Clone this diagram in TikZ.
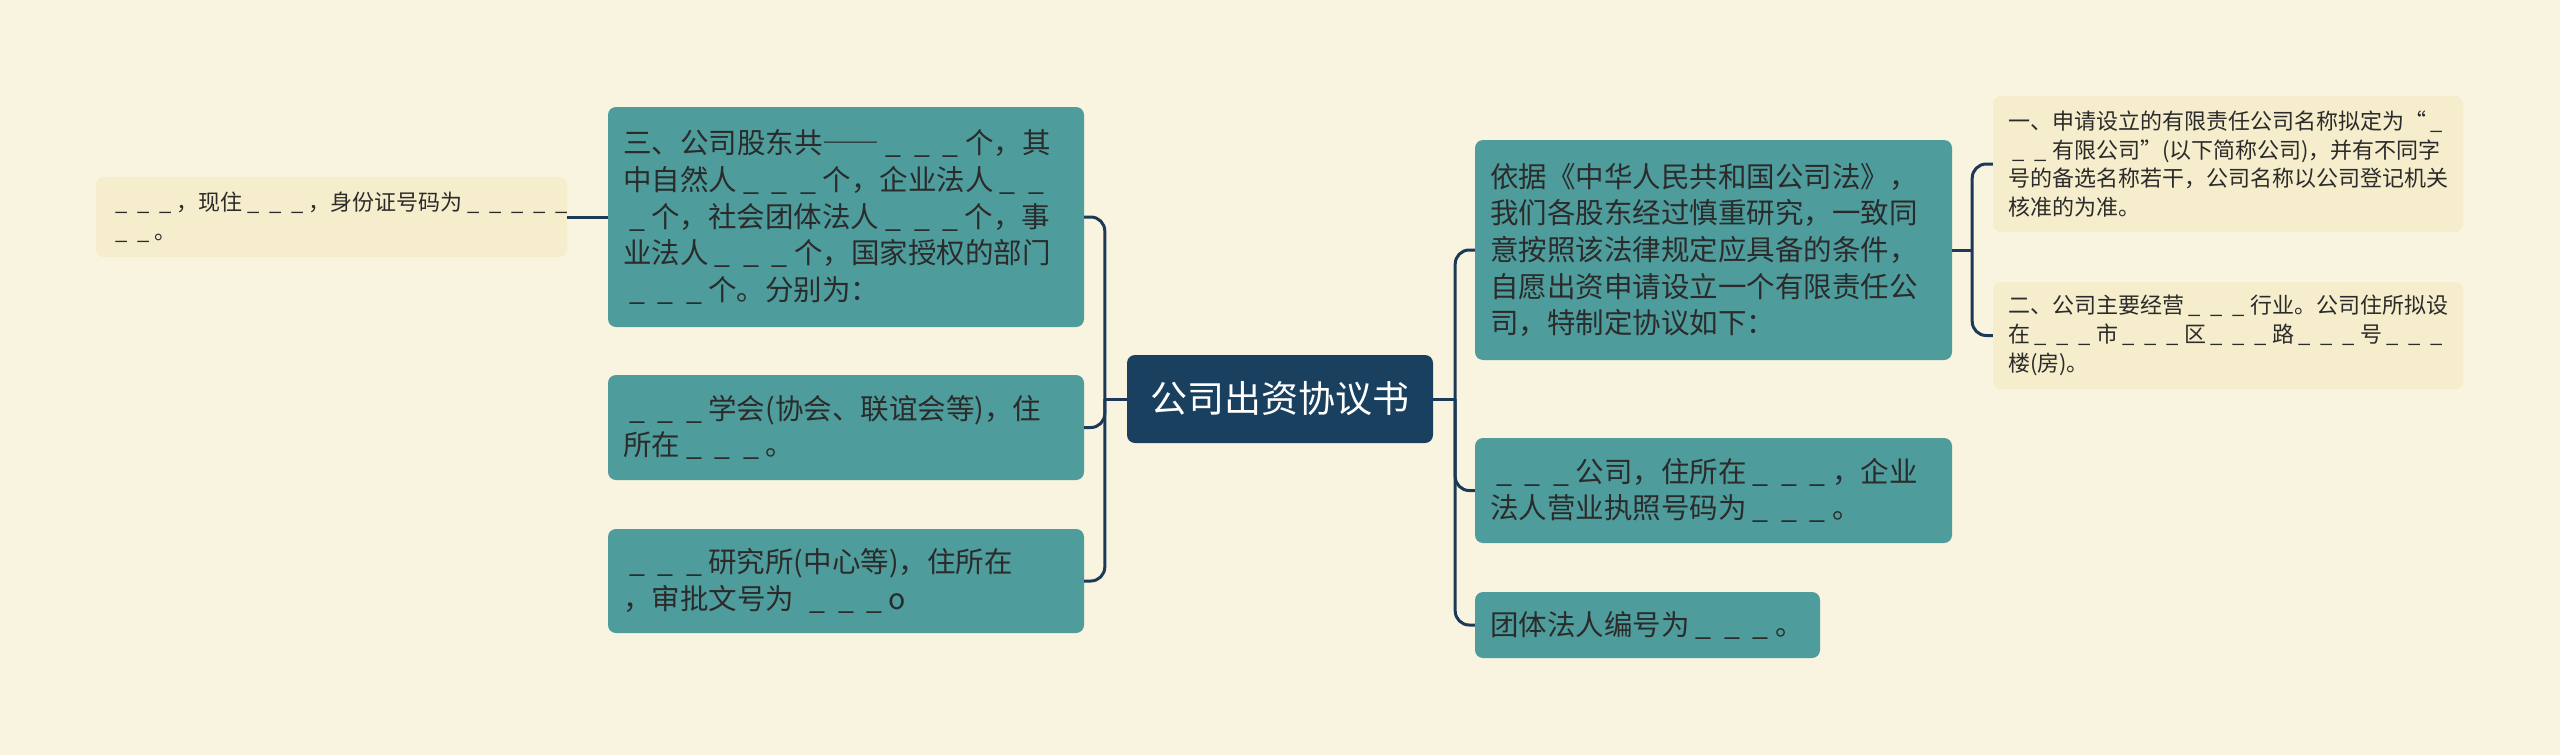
\documentclass[tikz,border=0pt]{standalone}
\usepackage{fontspec}
\newfontfamily\cjk{Noto Sans CJK SC}
\newfontfamily\cjkfw[RawFeature=+fwid]{Noto Sans CJK SC}
\usepackage{tikz}
\usetikzlibrary{calc}
\definecolor{bgcream}{HTML}{F9F4DF}
\definecolor{rootblue}{HTML}{1A4060}
\definecolor{tealfill}{HTML}{4E9C9C}
\definecolor{lightfill}{HTML}{F5EDCB}
\definecolor{linkblue}{HTML}{1C3A58}
\definecolor{inkgray}{HTML}{2B2B2B}
\newcommand{\us}{\makebox[1em]{\_}}
\newcommand{\blk}{\us\us\us}

\begin{document}
\begin{tikzpicture}[x=1pt,y=-1pt,
		rootbox/.style={fill=rootblue,rounded corners=8pt,text=white,font=\cjk\fontsize{37}{44}\selectfont,minimum height=88pt,minimum width=306pt,inner sep=0pt},
		tealbox/.style={fill=tealfill,rounded corners=8pt,text=inkgray,font=\cjk\fontsize{28.5}{36.7}\selectfont,align=left,inner xsep=15pt,inner ysep=0pt},
		lightbox/.style={fill=lightfill,rounded corners=8pt,text=inkgray,font=\cjk\fontsize{22}{28.7}\selectfont,align=left,inner xsep=15pt,inner ysep=0pt},
		link/.style={draw=linkblue,line width=3pt,rounded corners=14pt}]
			% background
			\fill[bgcream] (0,0) rectangle (2560,755);
			% root
			\node[rootbox] (root) at (1280,399) {公司出资协议书};
			% left branch
			\node[tealbox,text width=446pt,minimum height=220pt] (gudong) at (846,217) {三、公司股东共{\cjkfw ——}\blk{}个，其\\中自然人\blk{}个，企业法人\us\us\\\us{}个，社会团体法人\blk{}个，事\\业法人\blk{}个，国家授权的部门\\\blk{}个。分别为：};
			\node[tealbox,text width=446pt,minimum height=105pt] (xuehui) at (846,427.5) {\blk{}学会(协会、联谊会等)，住\\所在\blk{}。};
			\node[tealbox,text width=446pt,minimum height=104pt] (yanjiu) at (846,581) {\blk{}研究所(中心等)，住所在\\，审批文号为 \blk{}o};
			\node[lightbox,text width=441pt,minimum height=80pt] (ziranren) at (331.5,217) {\blk{}，现住\blk{}，身份证号码为\blk\us\us\\\us\us{}。};
			% right branch
			\node[tealbox,text width=447pt,minimum height=220pt] (yiju) at (1713.5,250) {依据《中华人民共和国公司法》，\\我们各股东经过慎重研究，一致同\\意按照该法律规定应具备的条件，\\自愿出资申请设立一个有限责任公\\司，特制定协议如下：};
			\node[tealbox,text width=447pt,minimum height=105pt] (gongsi) at (1713.5,490.5) {\blk{}公司，住所在\blk{}，企业\\法人营业执照号码为\blk{}。};
			\node[tealbox,text width=315pt,minimum height=66pt] (tuanti) at (1647.5,625) {团体法人编号为\blk{}。};
			\node[lightbox,text width=440pt,minimum height=136pt] (mingcheng) at (2228,164) {一、申请设立的有限责任公司名称拟定为“\us\\\us\us{}有限公司”(以下简称公司)，并有不同字\\号的备选名称若干，公司名称以公司登记机关\\核准的为准。};
			\node[lightbox,text width=440pt,minimum height=107pt] (zhusuo) at (2228,335.5) {二、公司主要经营\blk{}行业。公司住所拟设\\在\blk{}市\blk{}区\blk{}路\blk{}号\blk\\楼(房)。};
			% connectors
			\coordinate (lbus) at ($(root.west)+(-22,0)$);
			\coordinate (rbus) at ($(root.east)+(22,0)$);
			\coordinate (ybus) at ($(yiju.east)+(20,0)$);
			\draw[link] (root.west) -- (lbus);
			\foreach \n in {gudong,xuehui,yanjiu} {
				\draw[link] (lbus) |- (\n.east);
			}
			\draw[link] (gudong.west) -- (ziranren.east);
			\draw[link] (root.east) -- (rbus);
			\foreach \n in {yiju,gongsi,tuanti} {
				\draw[link] (rbus) |- (\n.west);
			}
			\draw[link] (yiju.east) -- (ybus);
			\foreach \n in {mingcheng,zhusuo} {
				\draw[link] (ybus) |- (\n.west);
			}
		\end{tikzpicture}
\end{document}
